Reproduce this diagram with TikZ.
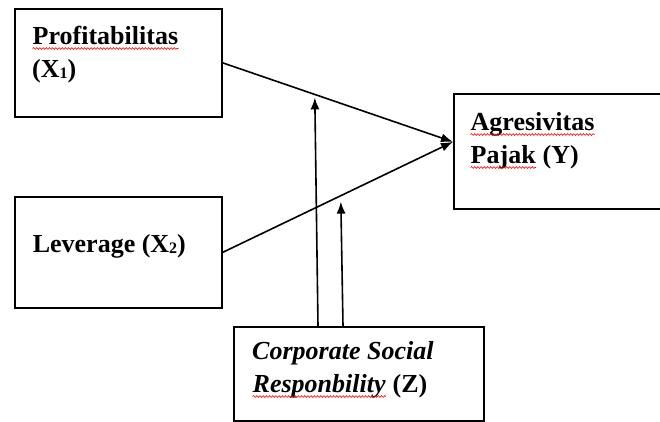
\documentclass[tikz,border=0pt]{standalone}
\usepackage{fontspec}
\setmainfont{Liberation Serif}
\usetikzlibrary{calc, arrows.meta, decorations.pathmorphing}
\newcommand{\redwave}[1]{\tikz[baseline=(w.base),x=1pt,y=1pt]{\node[anchor=base, inner sep=0pt, draw=none] (w) {#1};
  \draw[red, line width=0.6pt, decorate, decoration={snake, amplitude=0.9pt, segment length=3.2pt}] ($(w.base west)+(0,-4.5)$) -- ($(w.base east)+(0,-4.5)$);}}
\newcommand{\subidx}[1]{\raisebox{-1pt}{\fontsize{16}{16}\selectfont #1}}
\tikzstyle{var}=[draw, line width=1.7pt, anchor=north west, inner sep=0pt]
\tikzstyle{lbl}=[font=\fontsize{26}{33}\selectfont\bfseries, align=left, anchor=base west, inner sep=0pt]

\begin{document}
\begin{tikzpicture}[x=1pt,y=-1pt,>={Latex[length=12pt,width=9pt]},line width=1.6pt]
      \useasboundingbox (0,0) rectangle (660,421);
      \clip (0,0) rectangle (660,421);
      % boxes
      \node [var, minimum width=207pt, minimum height=108pt] (x1) at (14,8) {};
      \node [var, minimum width=207pt, minimum height=111pt] (x2) at (14,196) {};
      \node [var, minimum width=240pt, minimum height=115pt] (y) at (453,93) {};
      \node [var, minimum width=250pt, minimum height=94pt] (z) at (233,326) {};
      % labels (base = last line)
      \node [lbl] (tx1) at ($(x1.north west)+(18,69)$) {\redwave{Profitabilitas}\\(X\subidx{1})};
      \node [lbl] (tx2) at ($(x2.north west)+(18,56)$) {Leverage (X\subidx{2})};
      \node [lbl] (ty) at ($(y.north west)+(17,70)$) {\redwave{Agresivitas}\\\redwave{Pajak} (Y)};
      \node [lbl] (tz) at ($(z.north west)+(19,66)$) {\textit{Corporate Social}\\\redwave{\textit{Responbility}} (Z)};
      % connectors
      \coordinate (tip) at ($(y.west)+(0,-9.5)$);
      \coordinate (m1) at ($(x1.east)!0.40!(tip)+(0,3)$);
      \coordinate (m2) at ($(x2.east)!0.513!(tip)+(0,6)$);
      \coordinate (z1) at ($(z.north west)+(85,0)$);
      \coordinate (z2) at ($(z.north west)+(110,0)$);
      \draw[->] (x1.east) -- (tip);
      \draw[->] (x2.east) -- (tip);
      \draw[->] (z1) -- (m1);
      \draw[->] (z2) -- (m2);
\end{tikzpicture}
\end{document}
